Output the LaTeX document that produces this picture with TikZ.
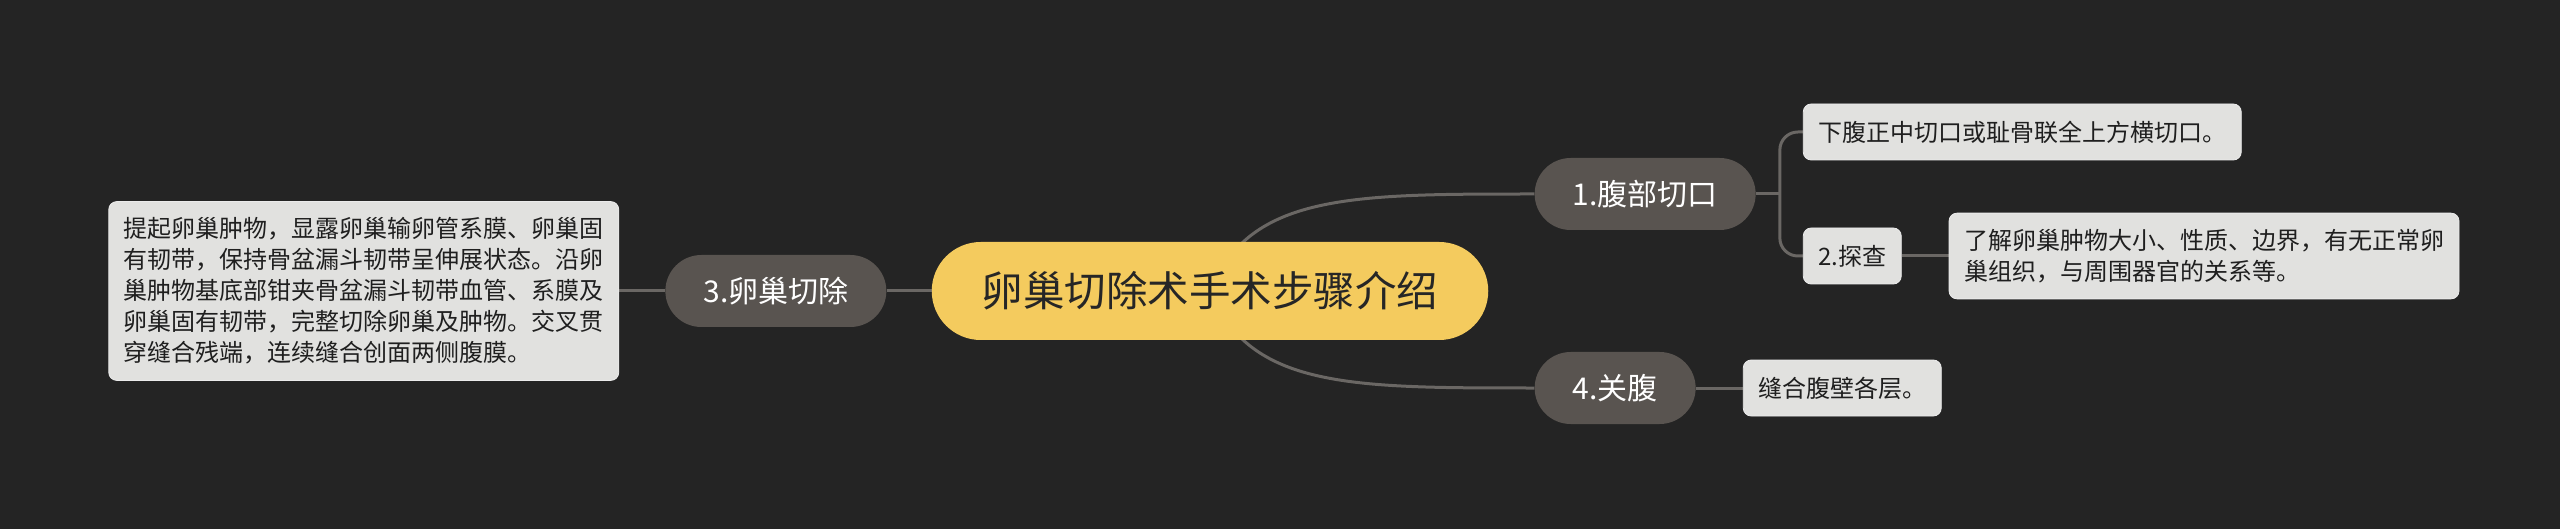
\documentclass[tikz,border=0pt]{standalone}
\usepackage{fontspec}
\setmainfont{Noto Sans CJK SC}
\usetikzlibrary{positioning,backgrounds}
\definecolor{bgdark}{HTML}{242424}
\definecolor{rootyellow}{HTML}{F4CB5E}
\definecolor{branchgray}{HTML}{595450}
\definecolor{leafgray}{HTML}{E1E1DF}
\definecolor{linkgray}{HTML}{6A6764}

\begin{document}
\begin{tikzpicture}[x=1pt,y=-1pt,
		root/.style={fill=rootyellow, text=black!85, rounded corners=49pt,
			minimum height=98pt, inner xsep=50pt, font=\fontsize{41.5}{48}\selectfont},
		branch/.style={fill=branchgray, text=white, rounded corners=36pt,
			minimum height=72pt, inner xsep=38pt, font=\fontsize{30}{36}\selectfont},
		leaf/.style={fill=leafgray, draw=white!92!black, line width=0.8pt, text=black!88,
			rounded corners=8pt, minimum height=56pt, inner xsep=15pt, inner ysep=16pt,
			align=left, font=\fontsize{24}{31}\selectfont},
		link/.style={draw=linkgray, line width=3pt}]
		\useasboundingbox (0,0) rectangle (2560,529);
		
		\node[root] (root) at (1210,291) {卵巢切除术手术步骤介绍};
		\node[branch, right=46pt of root.east, anchor=west, yshift=97pt] (cut) {1.腹部切口};
		\node[branch, left=45pt of root] (excise) {3.卵巢切除};
		\node[branch, right=46pt of root.east, anchor=west, yshift=-97pt] (close) {4.关腹};
		\node[leaf, right=47pt of cut.east, anchor=west, yshift=62pt] (cuttext) {下腹正中切口或耻骨联全上方横切口。};
		\node[leaf, right=47pt of cut.east, anchor=west, yshift=-62pt] (explore) {2.探查};
		\node[leaf, right=47pt of explore] (exploretext) {了解卵巢肿物大小、性质、边界，有无正常卵\\巢组织，与周围器官的关系等。};
		\node[leaf, left=46pt of excise] (excisetext) {提起卵巢肿物，显露卵巢输卵管系膜、卵巢固\\有韧带，保持骨盆漏斗韧带呈伸展状态。沿卵\\巢肿物基底部钳夹骨盆漏斗韧带血管、系膜及\\卵巢固有韧带，完整切除卵巢及肿物。交叉贯\\穿缝合残端，连续缝合创面两侧腹膜。};
		\node[leaf, right=47pt of close] (closetext) {缝合腹壁各层。};
		\coordinate[right=24pt of cut.east] (cutfork);
		
		\begin{scope}[on background layer]
			\fill[bgdark] (0,0) rectangle (2560,529);
			\draw[link] (root.center) .. controls +(40,-97) and +(-185,0) .. (cut.west);
			\draw[link] (root.center) .. controls +(40,97) and +(-185,0) .. (close.west);
			\draw[link] (root) -- (excise);
			\draw[link] (excise) -- (excisetext);
			\draw[link] (cut.east) -- (cutfork);
			\draw[link, rounded corners=18pt] (cuttext.west) -| (cutfork) |- (explore.west);
			\draw[link] (explore) -- (exploretext);
			\draw[link] (close) -- (closetext);
		\end{scope}
		
	\end{tikzpicture}
\end{document}
